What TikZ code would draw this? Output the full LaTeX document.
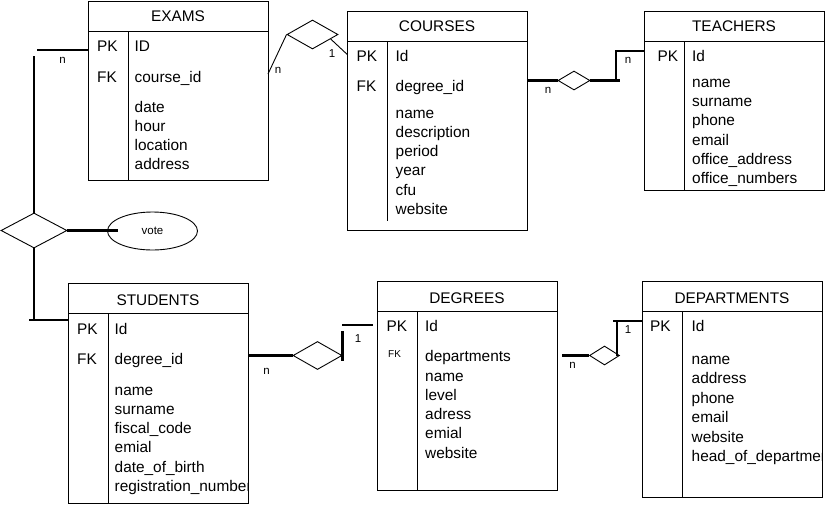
\documentclass[tikz,border=0pt]{standalone}
\usepackage{fontspec}
\setmainfont{Liberation Sans}
\usetikzlibrary{shapes.geometric,calc}
\tikzset{
  tbl/.style={draw, line width=0.9pt, anchor=north west, inner sep=0pt},
  ttl/.style={anchor=base, inner sep=0pt, font=\fontsize{15.4}{18}\selectfont},
  attr/.style={anchor=base west, inner sep=0pt, font=\fontsize{15.4}{18}\selectfont},
  smallkey/.style={anchor=base west, inner sep=0pt, font=\fontsize{10}{12}\selectfont},
  card/.style={inner sep=0pt, font=\fontsize{11.5}{13}\selectfont},
  rel/.style={draw, diamond, line width=0.9pt, inner sep=0pt, fill=white},
  boldlink/.style={line width=2.4pt},
  thinlink/.style={line width=0.9pt},
  sepline/.style={line width=0.9pt},
}
% #1 name #2 x #3 y #4 w #5 h #6 divider gap #7 title #8 title baseline
\newcommand\ertable[8]{%
  \node[tbl, minimum width=#4pt, minimum height=#5pt] (#1) at (#2,#3) {};
  \node[ttl] (#1-t) at (#2+#4/2,#8) {#7};
  \draw[sepline] ($(#1.north west)+(0,30)$) -- ($(#1.north east)+(0,30)$);
  \draw[sepline] ($(#1.north west)+(40,30)$) -- ($(#1.south west)+(40,-#6)$);
}
% #1 prefix #2 x #3 first baseline #4 spacing #5 list
\newcommand\ercol[5]{%
  \foreach \txt [count=\k from 0] in {#5} {\node[attr] (#1\k) at (#2,#3+#4*\k) {\txt};}
}
\begin{document}
\begin{tikzpicture}[x=1pt,y=-1pt]
\useasboundingbox (0,0) rectangle (825,504);

% ---------- EXAMS
\ertable{exams}{88}{1}{180}{179}{0}{EXAMS}{21.5}
\node[attr] (exams-pk) at (97,51) {PK};
\node[attr] (exams-id) at (134.5,51) {ID};
\node[attr] (exams-fk) at (97,82) {FK};
\node[attr] (exams-fkid) at (134.5,82) {course\_id};
\ercol{exams-a}{134.5}{112}{19.1}{date,hour,location,address}

% ---------- COURSES
\ertable{courses}{347}{11}{180}{219}{10}{COURSES}{31.5}
\node[attr] (courses-pk) at (356.5,61) {PK};
\node[attr] (courses-id) at (395.5,61) {Id};
\node[attr] (courses-fk) at (356.5,91.5) {FK};
\node[attr] (courses-fkid) at (395.5,91.5) {degree\_id};
\ercol{courses-a}{395.5}{118.3}{19.2}{name,description,period,year,cfu,website}

% ---------- TEACHERS
\ertable{teachers}{644}{11}{180}{179}{0}{TEACHERS}{31.5}
\node[attr] (teachers-pk) at (657.5,61) {PK};
\node[attr] (teachers-id) at (692,61) {Id};
\ercol{teachers-a}{692}{87.3}{19.3}{name,surname,phone,email,office\_address,office\_numbers}

% ---------- STUDENTS
\ertable{students}{68}{283}{180}{220}{0}{STUDENTS}{305}
\node[attr] (students-pk) at (77,334) {PK};
\node[attr] (students-id) at (114.5,334) {Id};
\node[attr] (students-fk) at (77,364.3) {FK};
\node[attr] (students-fkid) at (114.5,364.3) {degree\_id};
\begin{scope}
  \clip (students.north west) rectangle (students.south east);
  \ercol{students-a}{114.5}{395}{19.3}{name,surname,fiscal\_code,emial,date\_of\_birth,registration\_number}
\end{scope}

% ---------- DEGREES
\ertable{degrees}{377}{281}{180}{209}{0}{DEGREES}{303.3}
\node[attr] (degrees-pk) at (386.5,331.7) {PK};
\node[attr] (degrees-id) at (425,331.7) {Id};
\node[smallkey] (degrees-fk) at (388,357.3) {FK};
\ercol{degrees-a}{425}{361.7}{19.3}{departments,name,level,adress,emial,website}

% ---------- DEPARTMENTS
\ertable{departments}{642}{281}{180}{216}{0}{DEPARTMENTS}{303.3}
\node[attr] (departments-pk) at (650,331.7) {PK};
\node[attr] (departments-id) at (691.5,331.7) {Id};
\begin{scope}
  \clip (departments.north west) rectangle (departments.south east);
  \ercol{departments-a}{691.5}{364.3}{19.45}{name,address,phone,email,website,head\_of\_department}
\end{scope}

% ---------- vote attribute and exam relationship
\node[draw, ellipse, line width=0.9pt, minimum width=90pt, minimum height=38pt, inner sep=0pt,
      font=\fontsize{11.5}{13}\selectfont] (vote) at (152.5,231) {vote};
\node[rel, minimum width=66pt, minimum height=35pt] (r5) at (34,230.5) {};
\coordinate (vt) at (118,230.5);
\coordinate (r5top) at (34,56);
\coordinate (r5bot) at (34,320);
\coordinate (r5left) at (29,320);
\coordinate (exleft) at (37,50);
\draw[boldlink] (r5top) -- (r5.north);
\draw[boldlink] (r5.south) -- (r5bot);
\draw[boldlink] (r5left) -- (students.north west |- r5left);
\draw[boldlink] (exleft) -- (exams.north west |- exleft);
\draw[boldlink] (r5.east) -- (vt);
\node[card] (n1) at (62.5,60.3) {n};

% ---------- EXAMS -- COURSES
\node[rel, minimum width=51pt, minimum height=29pt] (r1) at (312.5,34.5) {};
\coordinate (e1) at (268,74);
\coordinate (c1) at (347.3,54.5);
\draw[thinlink] (e1) -- (r1.west);
\draw[thinlink] ($(r1.east)!0.3!(r1.south)$) -- (c1);
\node[card] (n2) at (278,70) {n};
\node[card] (n3) at (332,54) {1};

% ---------- COURSES -- TEACHERS
\node[rel, minimum width=32pt, minimum height=19pt] (r2) at (574,80.5) {};
\coordinate (c2) at (527,80.5);
\coordinate (t1) at (616,80.5);
\coordinate (t1e) at (620,80.5);
\coordinate (t2) at (644,51);
\draw[boldlink] (c2) -- (r2.west);
\draw[boldlink] (r2.east) -- (t1e);
\draw[boldlink] (t1) |- (t2);
\node[card] (n4) at (548,90.7) {n};
\node[card] (n5) at (628,60.3) {n};

% ---------- STUDENTS -- DEGREES
\node[rel, minimum width=49pt, minimum height=28pt] (r3) at (317.5,355.5) {};
\coordinate (s1) at (248,355.5);
\coordinate (d1a) at (342.5,331);
\coordinate (d1b) at (342.5,361);
\coordinate (d1c) at (342,325);
\coordinate (d1d) at (372.5,325);
\draw[boldlink] (s1) -- (r3.west);
\draw[boldlink] (d1a) -- (d1b);
\draw[boldlink] (d1c) -- (d1d);
\node[card] (n6) at (266.5,371) {n};
\node[card] (n7) at (358,339) {1};

% ---------- DEGREES -- DEPARTMENTS
\node[rel, minimum width=30pt, minimum height=19pt] (r4) at (604.5,355.5) {};
\coordinate (g1) at (562,355.5);
\coordinate (p1) at (617,355.5);
\coordinate (p2) at (617,321);
\coordinate (p3) at (613,321);
\coordinate (p4) at (642,321);
\draw[boldlink] (g1) -- (r4.west);
\draw[boldlink] (p1) -- (p2);
\draw[boldlink] (p3) -- (p4);
\node[card] (n8) at (572.5,365.5) {n};
\node[card] (n9) at (628,330) {1};
\end{tikzpicture}
\end{document}
